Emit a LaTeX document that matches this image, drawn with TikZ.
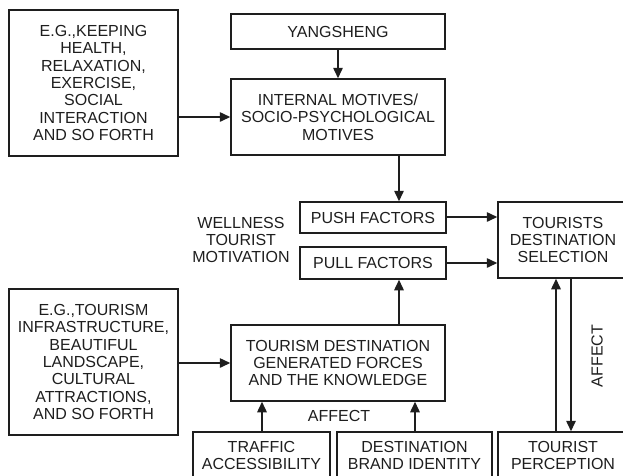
\documentclass[tikz,border=0pt]{standalone}
\usepackage{fontspec}
\setmainfont{Liberation Sans}
\usetikzlibrary{arrows.meta}
\definecolor{ink}{HTML}{1E1E1E}
\tikzset{
  box/.style={draw=ink, line width=1.5pt, rectangle, align=center, inner sep=0pt, text=ink,
    font=\fontsize{16}{17.3}\selectfont},
  lbl/.style={align=center, inner sep=0pt, text=ink, font=\fontsize{16}{17.3}\selectfont},
  arr/.style={draw=ink, line width=1.5pt, -{Triangle[length=10.5pt,width=9.5pt]}}
}
\begin{document}
\begin{tikzpicture}[x=1pt,y=-1pt]
\useasboundingbox (0,0) rectangle (623,475);
\begin{scope}
\clip (0,0) rectangle (623,475);
\node[box, minimum width=169pt, minimum height=146pt] (ex1) at (93.5,83) {E.G.,KEEPING\\HEALTH,\\RELAXATION,\\EXERCISE,\\SOCIAL\\INTERACTION\\AND SO FORTH};
\node[box, minimum width=214pt, minimum height=35pt] (yang) at (338,31.5) {YANGSHENG};
\node[box, minimum width=214pt, minimum height=76pt] (intm) at (338,117) {INTERNAL MOTIVES/\\SOCIO-PSYCHOLOGICAL\\MOTIVES};
\node[box, minimum width=146pt, minimum height=31pt] (push) at (373,217.5) {PUSH FACTORS};
\node[box, minimum width=146pt, minimum height=32pt] (pull) at (373,263) {PULL FACTORS};
\node[box, minimum width=130pt, minimum height=76pt] (tds) at (563,240) {TOURISTS\\DESTINATION\\SELECTION};
\node[lbl] (wtm) at (241,240) {WELLNESS\\TOURIST\\MOTIVATION};
\node[box, minimum width=169pt, minimum height=146pt] (ex2) at (93.5,362) {E.G.,TOURISM\\INFRASTRUCTURE,\\BEAUTIFUL\\LANDSCAPE,\\CULTURAL\\ATTRACTIONS,\\AND SO FORTH};
\node[box, minimum width=214pt, minimum height=76pt] (tdg) at (338,363) {TOURISM DESTINATION\\GENERATED FORCES\\AND THE KNOWLEDGE};
\node[box, minimum width=137pt, minimum height=47pt] (traf) at (261.5,455.5) {TRAFFIC\\ACCESSIBILITY};
\node[box, minimum width=155pt, minimum height=47pt] (brand) at (414.5,455.5) {DESTINATION\\BRAND IDENTITY};
\node[box, minimum width=130pt, minimum height=47pt] (perc) at (563,455.5) {TOURIST\\PERCEPTION};
\node[lbl] (aff1) at (339,416) {AFFECT};
\node[lbl, rotate=90] (aff2) at (597,356) {AFFECT};
\coordinate (c338) at (338,0);
\coordinate (c399) at (399,0);
\coordinate (c262) at (262,0);
\coordinate (c415) at (415,0);
\coordinate (c556) at (556,0);
\coordinate (c571) at (571,0);
\coordinate (r217) at (0,217);
\coordinate (r263) at (0,263);
\draw[arr] (ex1.east |- intm) -- (intm.west);
\draw[arr] (yang.south -| c338) -- (intm.north -| c338);
\draw[arr] (intm.south -| c399) -- (push.north -| c399);
\draw[arr] (push.east |- r217) -- (tds.west |- r217);
\draw[arr] (pull.east |- r263) -- (tds.west |- r263);
\draw[arr] (tdg.north -| c399) -- (pull.south -| c399);
\draw[arr] (ex2.east |- tdg) -- (tdg.west);
\draw[arr] (traf.north -| c262) -- (tdg.south -| c262);
\draw[arr] (brand.north -| c415) -- (tdg.south -| c415);
\draw[arr] (perc.north -| c556) -- (tds.south -| c556);
\draw[arr] (tds.south -| c571) -- (perc.north -| c571);
\end{scope}
\end{tikzpicture}
\end{document}
